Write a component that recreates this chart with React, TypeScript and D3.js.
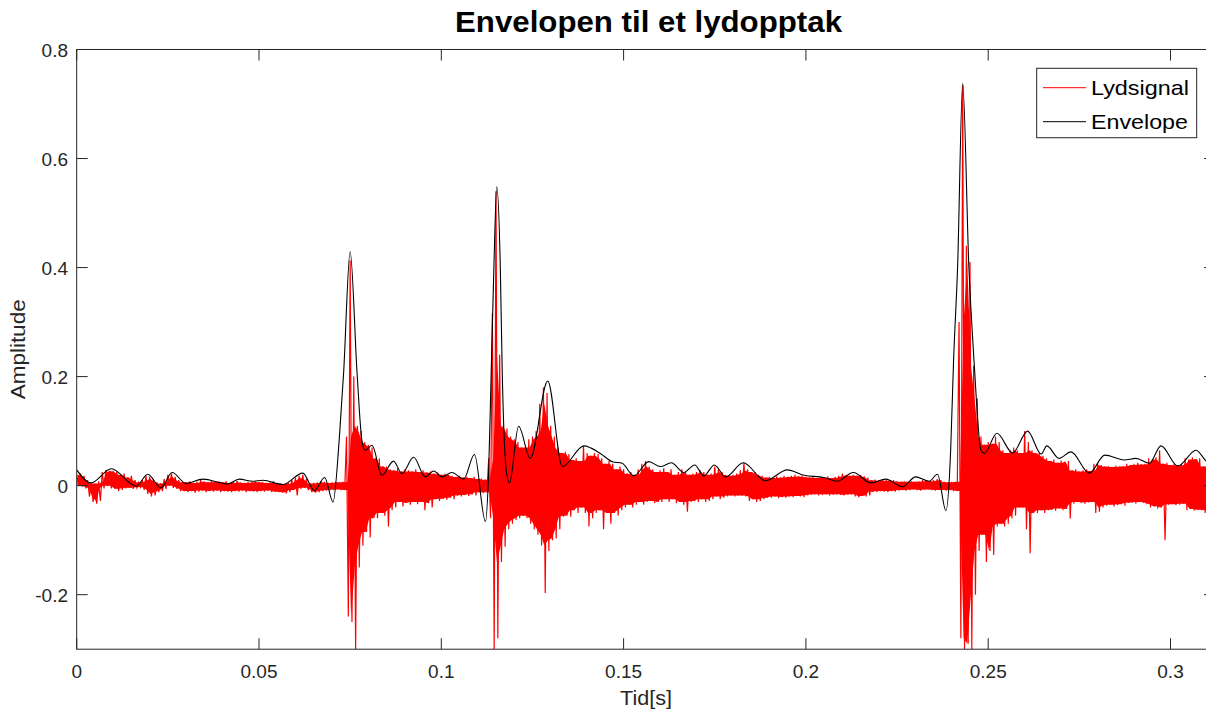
import React from "react";
import * as d3 from "d3";

// Time axis: samples at every 1 ms (index = ms)
const sigHi: number[] = [
  0.020, 0.022, 0.018, 0.010, 0.005, 0.004, 0.008, 0.025, 0.029, 0.027,
  0.027, 0.025, 0.020, 0.022, 0.015, 0.018, 0.010, 0.006, 0.010, 0.018,
  0.016, 0.012, 0.006, 0.004, 0.012, 0.020, 0.022, 0.016, 0.010, 0.006,
  0.006, 0.008, 0.005, 0.007, 0.010, 0.008, 0.006, 0.009, 0.007, 0.008,
  0.006, 0.008, 0.005, 0.007, 0.009, 0.006, 0.005, 0.007, 0.006, 0.008,
  0.006, 0.007, 0.005, 0.006, 0.008, 0.005, 0.004, 0.003, 0.005, 0.010,
  0.014, 0.018, 0.020, 0.012, 0.004, 0.005, 0.006, 0.008, 0.007, 0.005,
  0.006, 0.007, 0.006, 0.007, 0.090, 0.413, 0.200, 0.110, 0.100, 0.080,
  0.075, 0.070, 0.050, 0.050, 0.035, 0.035, 0.030, 0.028, 0.032, 0.026,
  0.030, 0.028, 0.026, 0.030, 0.025, 0.028, 0.024, 0.026, 0.022, 0.024,
  0.020, 0.022, 0.020, 0.018, 0.016, 0.018, 0.015, 0.016, 0.014, 0.016,
  0.012, 0.013, 0.011, 0.050, 0.316, 0.540, 0.240, 0.110, 0.105, 0.090,
  0.085, 0.080, 0.070, 0.070, 0.085, 0.090, 0.100, 0.150, 0.180, 0.170,
  0.110, 0.090, 0.070, 0.060, 0.062, 0.058, 0.047, 0.050, 0.045, 0.073,
  0.060, 0.055, 0.060, 0.058, 0.050, 0.040, 0.045, 0.040, 0.030, 0.035,
  0.030, 0.022, 0.025, 0.020, 0.030, 0.040, 0.045, 0.035, 0.030, 0.025,
  0.028, 0.032, 0.025, 0.030, 0.020, 0.025, 0.030, 0.025, 0.020, 0.022,
  0.025, 0.028, 0.025, 0.020, 0.022, 0.035, 0.030, 0.025, 0.020, 0.018,
  0.020, 0.022, 0.028, 0.042, 0.030, 0.025, 0.025, 0.020, 0.018, 0.015,
  0.016, 0.014, 0.017, 0.015, 0.018, 0.016, 0.018, 0.020, 0.017, 0.018,
  0.016, 0.015, 0.017, 0.014, 0.016, 0.015, 0.017, 0.014, 0.016, 0.018,
  0.022, 0.020, 0.018, 0.020, 0.018, 0.020, 0.017, 0.015, 0.010, 0.011,
  0.009, 0.011, 0.010, 0.009, 0.010, 0.008, 0.007, 0.008, 0.007, 0.008,
  0.007, 0.008, 0.010, 0.009, 0.008, 0.010, 0.012, 0.010, 0.007, 0.006,
  0.007, 0.007, 0.300, 0.735, 0.440, 0.410, 0.220, 0.160, 0.090, 0.075,
  0.080, 0.077, 0.090, 0.080, 0.065, 0.060, 0.065, 0.070, 0.065, 0.060,
  0.100, 0.080, 0.065, 0.060, 0.060, 0.055, 0.050, 0.045, 0.048, 0.042,
  0.046, 0.044, 0.045, 0.028, 0.030, 0.026, 0.028, 0.030, 0.027, 0.040,
  0.042, 0.038, 0.035, 0.036, 0.034, 0.037, 0.035, 0.036, 0.040, 0.038,
  0.040, 0.042, 0.039, 0.040, 0.050, 0.048, 0.052, 0.065, 0.040, 0.042,
  0.038, 0.040, 0.037, 0.040, 0.050, 0.048, 0.052, 0.049, 0.050, 0.035,
  0.037, 0.036, 0.034,
];

const sigLo: number[] = [
  0.000, -0.002, -0.005, -0.020, -0.030, -0.033, -0.028, -0.005, 0.000, -0.005,
  -0.006, -0.010, -0.008, -0.005, -0.004, -0.006, -0.004, -0.003, -0.008, -0.015,
  -0.020, -0.018, -0.012, -0.010, -0.006, 0.000, -0.004, -0.006, -0.010, -0.010,
  -0.012, -0.010, -0.013, -0.011, -0.009, -0.012, -0.010, -0.011, -0.009, -0.012,
  -0.010, -0.011, -0.012, -0.010, -0.011, -0.009, -0.012, -0.010, -0.011, -0.012,
  -0.010, -0.011, -0.009, -0.012, -0.011, -0.012, -0.013, -0.014, -0.012, -0.008,
  -0.018, -0.006, -0.004, -0.008, -0.012, -0.013, -0.012, -0.010, -0.009, -0.008,
  -0.008, -0.007, -0.008, -0.008, -0.240, -0.250, -0.300, -0.150, -0.110, -0.085,
  -0.095, -0.060, -0.060, -0.050, -0.055, -0.075, -0.045, -0.040, -0.030, -0.038,
  -0.032, -0.035, -0.030, -0.034, -0.030, -0.045, -0.032, -0.040, -0.025, -0.028,
  -0.024, -0.026, -0.022, -0.025, -0.018, -0.020, -0.017, -0.019, -0.016, -0.018,
  -0.012, -0.014, -0.012, -0.060, -0.300, -0.280, -0.140, -0.112, -0.080, -0.070,
  -0.063, -0.060, -0.055, -0.060, -0.070, -0.080, -0.090, -0.110, -0.197, -0.120,
  -0.100, -0.097, -0.080, -0.057, -0.055, -0.057, -0.045, -0.050, -0.040, -0.050,
  -0.075, -0.060, -0.050, -0.045, -0.080, -0.050, -0.070, -0.050, -0.055, -0.045,
  -0.040, -0.035, -0.040, -0.035, -0.030, -0.035, -0.030, -0.028, -0.032, -0.030,
  -0.030, -0.025, -0.030, -0.025, -0.032, -0.030, -0.035, -0.048, -0.030, -0.028,
  -0.030, -0.025, -0.030, -0.028, -0.025, -0.020, -0.025, -0.022, -0.020, -0.018,
  -0.020, -0.018, -0.018, -0.020, -0.028, -0.025, -0.030, -0.028, -0.025, -0.022,
  -0.022, -0.020, -0.023, -0.021, -0.022, -0.020, -0.021, -0.019, -0.020, -0.021,
  -0.018, -0.017, -0.016, -0.018, -0.017, -0.016, -0.018, -0.017, -0.016, -0.017,
  -0.018, -0.017, -0.016, -0.020, -0.021, -0.019, -0.020, -0.018, -0.011, -0.012,
  -0.010, -0.011, -0.012, -0.010, -0.011, -0.009, -0.008, -0.009, -0.008, -0.007,
  -0.008, -0.009, -0.008, -0.007, -0.008, -0.009, -0.008, -0.008, -0.009, -0.008,
  -0.010, -0.010, -0.280, -0.300, -0.290, -0.300, -0.200, -0.120, -0.090, -0.140,
  -0.120, -0.127, -0.075, -0.070, -0.075, -0.070, -0.060, -0.055, -0.040, -0.040,
  -0.080, -0.124, -0.050, -0.050, -0.045, -0.050, -0.045, -0.044, -0.046, -0.042,
  -0.045, -0.043, -0.060, -0.033, -0.030, -0.032, -0.033, -0.031, -0.030, -0.050,
  -0.048, -0.040, -0.037, -0.035, -0.038, -0.036, -0.034, -0.037, -0.032, -0.031,
  -0.033, -0.030, -0.032, -0.034, -0.040, -0.038, -0.042, -0.040, -0.100, -0.035,
  -0.034, -0.036, -0.035, -0.033, -0.045, -0.043, -0.046, -0.044, -0.045, -0.050,
  -0.048, -0.046, -0.044,
];

// Envelope key points: time in ms, amplitude
const envT: number[] = [
  0, 3.9, 9.5, 16.3, 19.5, 23.1, 26.2, 30.0, 34.6, 41.4, 44.6, 48.3, 51.1, 56.5,
  62.0, 65.2, 68.0, 70.3, 72.0, 73.2, 75.0, 76.9, 78.2, 79.1, 81.0, 83.7, 86.9,
  89.2, 92.4, 95.6, 97.9, 100.2, 102.9, 106.1, 109.1, 112.1, 113.0, 113.7, 114.4,
  115.2, 116.2, 116.7, 117.8, 118.7, 121.2, 124.4, 129.2, 133.2, 139.1, 143.6,
  146.9, 149.6, 152.8, 156.9, 160.1, 163.1, 166.5, 169.5, 172.0, 174.9, 178.0,
  182.8, 188.9, 194.9, 199.5, 204.9, 208.6, 213.0, 217.8, 221.9, 226.5, 230.1,
  233.8, 236.1, 238.4, 239.7, 240.5, 241.6, 243.0, 244.7, 246.1, 248.0, 248.9,
  252.4, 256.7, 260.8, 264.5, 266.1, 269.4, 272.7, 277.7, 282.0, 287.3, 290.5,
  294.2, 297.4, 302.0, 307.0, 310.0, 312.2,
];
const envV: number[] = [
  0.029, 0.005, 0.031, -0.001, 0.021, -0.004, 0.024, 0.004, 0.012, 0.003, 0.012,
  0.008, 0.010, 0.002, 0.023, -0.009, 0.015, -0.030, 0.084, 0.206, 0.429, 0.206,
  0.084, 0.065, 0.074, 0.019, 0.045, 0.022, 0.052, 0.016, 0.027, 0.016, 0.024,
  0.012, 0.057, -0.066, 0.029, 0.212, 0.395, 0.548, 0.395, 0.212, 0.029, 0.005,
  0.109, 0.050, 0.192, 0.035, 0.073, 0.059, 0.044, 0.041, 0.018, 0.044, 0.035,
  0.042, 0.024, 0.038, 0.018, 0.038, 0.016, 0.042, 0.009, 0.029, 0.019, 0.015,
  0.008, 0.024, 0.005, 0.012, -0.002, 0.016, 0.008, 0.021, -0.046, 0.065, 0.230,
  0.400, 0.738, 0.400, 0.230, 0.065, 0.059, 0.096, 0.060, 0.100, 0.058, 0.073,
  0.050, 0.062, 0.023, 0.056, 0.047, 0.050, 0.041, 0.073, 0.036, 0.065, 0.044,
  0.040,
];

const xTicks: number[] = [0, 0.05, 0.1, 0.15, 0.2, 0.25, 0.3];
const xTickLabels: string[] = ["0", "0.05", "0.1", "0.15", "0.2", "0.25", "0.3"];
const yTicks: number[] = [-0.2, 0, 0.2, 0.4, 0.6, 0.8];
const yTickLabels: string[] = ["-0.2", "0", "0.2", "0.4", "0.6", "0.8"];
const seriesNames: string[] = ["Lydsignal", "Envelope"];
const seriesColors: string[] = ["#ff0000", "#000000"];

const W = 1206;
const H = 712;
const L = 76.7;
const R = 1215;
const T = 49.5;
const B = 649.2;
const FONT = "'Liberation Sans', Arial, Helvetica, sans-serif";
const AX = "#262626";
const TICK = 11;

export default function App() {
  const x = d3.scaleLinear().domain([0, 0.3122]).range([L, R]);
  const y = d3.scaleLinear().domain([-0.3, 0.8]).range([B, T]);
  const n = sigHi.length;

  // spikes: zigzag through every extreme
  const sigPts: [number, number][] = [];
  for (let i = 0; i < n; i++) {
    sigPts.push([i / 1000, sigHi[i]]);
    sigPts.push([(i + 0.5) / 1000, sigLo[i]]);
  }
  const line = d3
    .line<[number, number]>()
    .x((d) => x(d[0]))
    .y((d) => y(d[1]));
  const sigPath = line(sigPts) || "";

  // dense core: only the part shared by neighbouring samples (isolated spikes stay thin)
  const win = (i: number) => d3.range(Math.max(0, i - 1), Math.min(n, i + 2));
  const coreHi = d3.range(n).map((i) => d3.min(win(i), (j) => sigHi[j]) as number);
  const coreLo = d3.range(n).map((i) => d3.max(win(i), (j) => sigLo[j]) as number);
  const bandPath =
    d3
      .area<number>()
      .x((i) => x((i + 0.25) / 1000))
      .y0((i) => y(coreLo[i]))
      .y1((i) => y(coreHi[i]))(d3.range(n)) || "";

  const envPts: [number, number][] = envT.map((t, i) => [t / 1000, envV[i]]);
  const envPath =
    d3
      .line<[number, number]>()
      .x((d) => x(d[0]))
      .y((d) => y(d[1]))
      .curve(d3.curveMonotoneX)(envPts) || "";

  return (
    <div style={{ position: "absolute", left: 0, top: 0 }}>
      <svg width={W} height={H} style={{ display: "block", background: "#fff" }}>
        <defs>
          <clipPath id="plotClip">
            <rect x={L} y={T} width={R - L} height={B - T} />
          </clipPath>
        </defs>
        <rect x={0} y={0} width={W} height={H} fill="#fff" />
        <g clipPath="url(#plotClip)">
          <path d={bandPath} fill={seriesColors[0]} stroke="none" />
          <path d={sigPath} fill="none" stroke={seriesColors[0]} strokeWidth={1.2} />
          <path d={envPath} fill="none" stroke={seriesColors[1]} strokeWidth={1.1} />
        </g>
        {/* box */}
        <rect x={L} y={T} width={R - L} height={B - T} fill="none" stroke={AX} strokeWidth={1} />
        {/* x ticks */}
        {xTicks.map((t, i) => (
          <g key={"xt" + i}>
            <line x1={x(t)} x2={x(t)} y1={B} y2={B - TICK} stroke={AX} strokeWidth={1} />
            <line x1={x(t)} x2={x(t)} y1={T} y2={T + TICK} stroke={AX} strokeWidth={1} />
            <text x={x(t)} y={678} textAnchor="middle" fontFamily={FONT} fontSize={19} fill={AX}>
              {xTickLabels[i]}
            </text>
          </g>
        ))}
        {/* y ticks */}
        {yTicks.map((t, i) => (
          <g key={"yt" + i}>
            <line x1={L} x2={L + TICK} y1={y(t)} y2={y(t)} stroke={AX} strokeWidth={1} />
            <line x1={R} x2={R - TICK} y1={y(t)} y2={y(t)} stroke={AX} strokeWidth={1} />
            <text x={68} y={y(t) + 7} textAnchor="end" fontFamily={FONT} fontSize={19} fill={AX}>
              {yTickLabels[i]}
            </text>
          </g>
        ))}
        {/* title */}
        <text
          x={648.5}
          y={32}
          textAnchor="middle"
          fontFamily={FONT}
          fontWeight="bold"
          fontSize={30}
          textLength={387}
          lengthAdjust="spacingAndGlyphs"
          fill="#000"
        >
          Envelopen til et lydopptak
        </text>
        {/* axis labels */}
        <text
          x={646}
          y={705}
          textAnchor="middle"
          fontFamily={FONT}
          fontSize={21}
          textLength={52}
          lengthAdjust="spacingAndGlyphs"
          fill={AX}
        >
          Tid[s]
        </text>
        <text
          transform={`translate(25, ${(T + B) / 2}) rotate(-90)`}
          textAnchor="middle"
          fontFamily={FONT}
          fontSize={21}
          textLength={100}
          lengthAdjust="spacingAndGlyphs"
          fill={AX}
        >
          Amplitude
        </text>
        {/* legend */}
        <rect x={1036.7} y={68.3} width={160} height={69.4} fill="#fff" stroke={AX} strokeWidth={1} />
        {seriesNames.map((name, i) => {
          const cy = 87.7 + i * 34;
          return (
            <g key={"lg" + i}>
              <line x1={1043} x2={1086} y1={cy} y2={cy} stroke={seriesColors[i]} strokeWidth={1} />
              <text
                x={1091}
                y={cy + 7.5}
                fontFamily={FONT}
                fontSize={21}
                textLength={i === 0 ? 98 : 97}
                lengthAdjust="spacingAndGlyphs"
                fill="#000"
              >
                {name}
              </text>
            </g>
          );
        })}
      </svg>
    </div>
  );
}
